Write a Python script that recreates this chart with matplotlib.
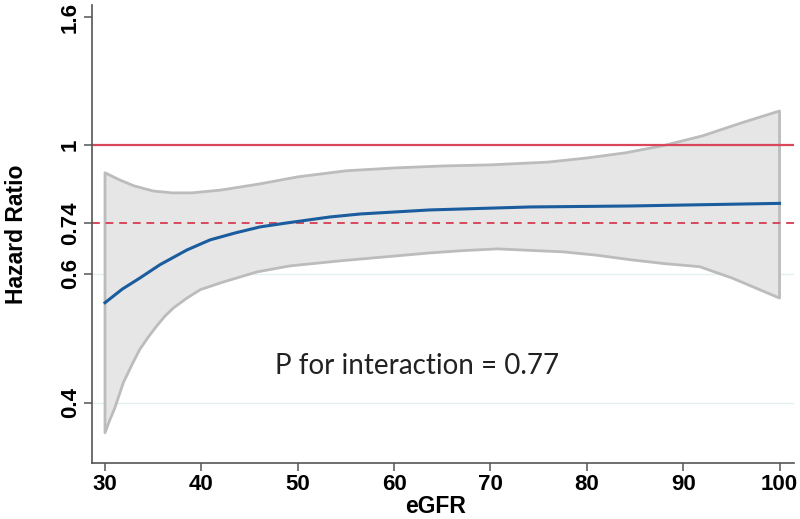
import numpy as np
import matplotlib
matplotlib.use("Agg")
import matplotlib.pyplot as plt

# values
egfr_fit = [30, 31.8, 33.6, 35.7, 38.5, 40.9, 43.5, 46.1, 48.9, 53.3, 56.5, 63.7, 74.1, 84.5, 100]
hr_fit = [0.548, 0.572, 0.592, 0.623, 0.662, 0.690, 0.710, 0.728, 0.740, 0.757, 0.766, 0.778, 0.787, 0.790, 0.798]

egfr_up = [30, 31.5, 33, 35, 37, 39, 42, 46, 50, 55, 60, 65, 70, 76, 80, 84, 88, 92, 96, 100]
hr_up = [0.898, 0.874, 0.854, 0.837, 0.831, 0.831, 0.840, 0.860, 0.884, 0.905, 0.915, 0.922,
         0.926, 0.936, 0.951, 0.970, 0.998, 1.034, 1.084, 1.133]

egfr_lo = [30, 30.5, 31, 31.9, 32.8, 33.6, 34.5, 35.3, 36.2, 37.1, 38.5, 39.9, 42.3, 45.8, 49.2,
           54.4, 63.7, 67, 70.7, 74, 77.5, 81, 84.5, 88, 91.7, 95.1, 100]
hr_lo = [0.364, 0.379, 0.393, 0.426, 0.451, 0.473, 0.492, 0.508, 0.525, 0.539, 0.556, 0.571, 0.585,
         0.605, 0.620, 0.633, 0.654, 0.660, 0.665, 0.661, 0.657, 0.648, 0.636, 0.626, 0.618, 0.592, 0.556]

yticks = [0.4, 0.6, 0.74, 1, 1.6]
ytick_labels = ["0.4", "0.6", "0.74", "1", "1.6"]
grid_y = [0.4, 0.6]
xticks = [30, 40, 50, 60, 70, 80, 90, 100]
p_text = "P for interaction = 0.77"

# the y axis of the original is not quite logarithmic: map the tick values
# to where they sit on the plot (log value -> height)
scale_ln = np.log([0.3, 0.4, 0.6, 0.74, 1.0, 1.6, 2.5])
scale_h = np.array([-494.5, -403, -274, -223, -145, -17, 104.4])

def fwd(y):
    y = np.clip(np.asarray(y, dtype=float), 1e-6, None)
    return np.interp(np.log(y), scale_ln, scale_h)

def inv(h):
    return np.exp(np.interp(np.asarray(h, dtype=float), scale_h, scale_ln))

fig = plt.figure(figsize=(8, 5.19), dpi=100)
ax = fig.add_axes([0.115, 0.108, 0.8775, 0.8825])
ax.set_yscale("function", functions=(fwd, inv))

# faint grid lines
for v in grid_y:
    ax.axhline(v, color="#e4f0f0", lw=1, zorder=0)

# confidence band
band_x = np.r_[egfr_up, egfr_lo[::-1]]
band_y = np.r_[hr_up, hr_lo[::-1]]
ax.fill(band_x, band_y, facecolor="#e6e6e6", edgecolor="#bcbcbc", lw=2,
        joinstyle="round", zorder=1)

ax.axhline(1, color="#d9475c", lw=1.6, zorder=2)
ax.axhline(0.74, color="#d9475c", lw=1.4, ls=(0, (4, 3)), zorder=2)

ax.plot(egfr_fit, hr_fit, color="#1a5c9e", lw=2.2, zorder=3, solid_joinstyle="round")

ax.text(47.6, 0.449, p_text, fontsize=20, family="Lato", color="#222222",
        va="center", ha="left")

ax.set_xlim(28.65, 101.5)
ax.set_ylim(0.331, 1.673)
ax.set_xticks(xticks)
ax.set_yticks(yticks)
ax.set_yticklabels(ytick_labels, rotation=90, va="center")
ax.minorticks_off()

for s in ["top", "right"]:
    ax.spines[s].set_visible(False)
for s in ["left", "bottom"]:
    ax.spines[s].set_color("#555555")
    ax.spines[s].set_linewidth(1.2)
ax.tick_params(length=6, width=1.1, color="#555555")
ax.tick_params(axis="x", pad=2)
ax.tick_params(axis="y", pad=2)
for lab in ax.get_xticklabels() + ax.get_yticklabels():
    lab.set_fontweight("bold")
    lab.set_fontsize(16)
    lab.set_family("Liberation Sans")

ax.set_xlabel("eGFR", fontsize=16.5, fontweight="bold", family="Liberation Sans", va="center")
ax.set_ylabel("Hazard Ratio", fontsize=16.5, fontweight="bold", family="Liberation Sans", va="center")
ax.xaxis.set_label_coords(0.49, -0.095)
ax.yaxis.set_label_coords(-0.108, 0.5)

fig.savefig("out.png", dpi=100)
